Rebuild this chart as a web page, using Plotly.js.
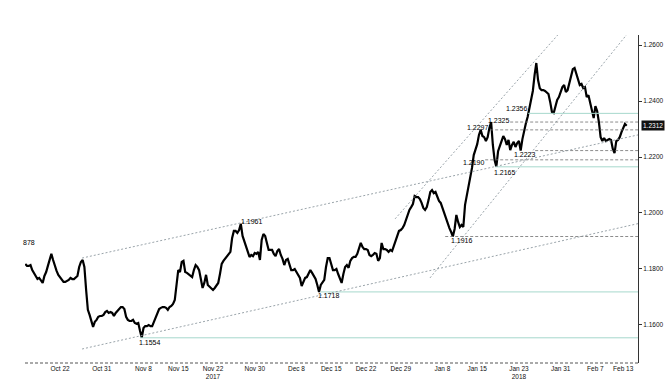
<!DOCTYPE html>
<html><head><meta charset="utf-8">
<script src="https://cdn.plot.ly/plotly-3.0.1.min.js"></script>
<style>html,body{margin:0;padding:0;background:#fff}#chart{width:669px;height:382px}</style>
</head><body><div id="chart"></div>
<script>
// EUR/USD, 6-hour closes, weekdays only
const seriesStart = '2017-10-16T00:00:00Z';
const stepHours = 6;
const price = [
1.1818,1.1811,1.1811,1.1814,1.1796,1.1786,1.1775,1.1764,1.1768,1.1757,
1.1750,1.1775,1.1789,1.1811,1.1829,1.1854,1.1832,1.1807,1.1793,1.1779,
1.1771,1.1764,1.1754,1.1754,1.1757,1.1761,1.1768,1.1764,1.1764,1.1768,
1.1775,1.1807,1.1825,1.1832,1.1807,1.1725,1.1654,1.1636,1.1614,1.1593,
1.1611,1.1618,1.1629,1.1632,1.1632,1.1636,1.1646,1.1650,1.1643,1.1646,
1.1643,1.1632,1.1643,1.1650,1.1654,1.1664,1.1664,1.1657,1.1629,1.1618,
1.1614,1.1614,1.1618,1.1607,1.1604,1.1607,1.1579,1.1554,1.1589,1.1596,
1.1596,1.1600,1.1596,1.1596,1.1611,1.1629,1.1646,1.1657,1.1661,1.1664,
1.1664,1.1661,1.1654,1.1664,1.1668,1.1675,1.1689,1.1750,1.1796,1.1789,
1.1825,1.1829,1.1789,1.1786,1.1782,1.1775,1.1771,1.1796,1.1814,1.1807,
1.1796,1.1764,1.1732,1.1750,1.1779,1.1743,1.1736,1.1732,1.1725,1.1732,
1.1739,1.1750,1.1782,1.1818,1.1829,1.1836,1.1843,1.1850,1.1861,1.1911,
1.1936,1.1936,1.1929,1.1939,1.1961,1.1918,1.1900,1.1886,1.1861,1.1843,
1.1850,1.1846,1.1857,1.1854,1.1861,1.1832,1.1904,1.1925,1.1918,1.1889,
1.1868,1.1868,1.1868,1.1854,1.1846,1.1864,1.1871,1.1850,1.1836,1.1814,
1.1832,1.1836,1.1814,1.1796,1.1796,1.1800,1.1789,1.1779,1.1768,1.1739,
1.1754,1.1768,1.1771,1.1782,1.1796,1.1786,1.1775,1.1764,1.1743,1.1718,
1.1743,1.1754,1.1761,1.1807,1.1839,1.1839,1.1818,1.1796,1.1796,1.1800,
1.1782,1.1764,1.1750,1.1782,1.1807,1.1814,1.1804,1.1829,1.1839,1.1843,
1.1843,1.1854,1.1875,1.1893,1.1879,1.1871,1.1871,1.1868,1.1850,1.1846,
1.1850,1.1857,1.1854,1.1829,1.1839,1.1893,1.1871,1.1871,1.1868,1.1861,
1.1868,1.1864,1.1882,1.1900,1.1914,1.1936,1.1939,1.1946,1.1957,1.1975,
1.1996,1.2011,1.2021,1.2032,1.2061,1.2057,1.2057,1.2050,1.2036,1.2018,
1.2011,1.2021,1.2046,1.2075,1.2082,1.2071,1.2075,1.2061,1.2043,1.2036,
1.2018,1.1996,1.1979,1.1964,1.1946,1.1932,1.1916,1.1943,1.1993,1.1968,
1.1950,1.1957,1.1950,1.2029,1.2064,1.2100,1.2121,1.2161,1.2207,1.2225,
1.2246,1.2279,1.2297,1.2275,1.2271,1.2257,1.2271,1.2304,1.2325,1.2243,
1.2189,1.2165,1.2221,1.2239,1.2257,1.2275,1.2264,1.2243,1.2261,1.2225,
1.2243,1.2254,1.2236,1.2250,1.2257,1.2223,1.2264,1.2300,1.2321,1.2343,
1.2379,1.2411,1.2436,1.2493,1.2536,1.2475,1.2446,1.2439,1.2439,1.2436,
1.2429,1.2425,1.2396,1.2361,1.2357,1.2386,1.2404,1.2414,1.2429,1.2450,
1.2457,1.2432,1.2439,1.2464,1.2493,1.2514,1.2518,1.2500,1.2475,1.2457,
1.2461,1.2446,1.2450,1.2414,1.2421,1.2396,1.2368,1.2339,1.2382,1.2364,
1.2325,1.2271,1.2257,1.2268,1.2257,1.2261,1.2264,1.2261,1.2229,1.2214,
1.2257,1.2261,1.2271,1.2289,1.2307,1.2318,1.2312
];
const lastPriceText = '1.2312';

const tickDates = ['2017-10-23','2017-10-31','2017-11-08','2017-11-15','2017-11-22','2017-11-30','2017-12-08','2017-12-15','2017-12-22','2017-12-29','2018-01-08','2018-01-15','2018-01-23','2018-01-31','2018-02-07','2018-02-13'];
const tickLabels = ['Oct 22','Oct 31','Nov 8','Nov 15','Nov 22<br>2017','Nov 30','Dec 8','Dec 15','Dec 22','Dec 29','Jan 8','Jan 15','Jan 23<br>2018','Jan 31','Feb 7','Feb 13'];
const yTicks = [1.16,1.18,1.20,1.22,1.24,1.26];

// support / resistance levels (solid teal)
const solidLevels = [1.1554,1.1718,1.2165,1.2356];
const solidStart = ['2017-11-07 12:00','2017-12-13 10:00','2018-01-17 14:00','2018-01-24 08:00'];
// dashed levels
const dashLevels = [1.1916,1.2190,1.2223,1.2297,1.2325];
const dashStart = ['2018-01-08 09:30','2018-01-16 03:30','2018-01-25 08:00','2018-01-16 20:40','2018-01-19 17:45'];
const levelEnd = '2018-02-16 00:00';
// trend channels
const trendX0 = ['2017-10-26 04:00','2017-10-26 04:00','2017-12-28 04:30','2018-01-04 05:00'];
const trendY0 = [1.1839,1.1514,1.1979,1.1768];
const trendX1 = ['2018-02-15 03:00','2018-02-15 03:00','2018-01-30 14:00','2018-02-13 11:00'];
const trendY1 = [1.2279,1.1962,1.2636,1.2636];
// level labels
const labelText = ['878','1.1554','1.1961','1.1718','1.1916','1.2190','1.2165','1.2297','1.2325','1.2356','1.2223'];
const labelDate = ['2017-10-16 13:00','2017-11-08 22:00','2017-11-29 15:00','2017-12-14 17:00','2018-01-10 20:00','2018-01-12 13:00','2018-01-19 00:30','2018-01-15 01:30','2018-01-18 04:00','2018-01-22 18:30','2018-01-23 21:30'];
const labelVal = [1.1896,1.1539,1.1968,1.1704,1.1900,1.2179,1.2145,1.2305,1.2332,1.2375,1.2209];

// regular 6h timestamps on weekdays
function pad(n){return (n<10?'0':'')+n;}
const times = [];
let t = Date.parse(seriesStart);
while (times.length < price.length) {
  const d = new Date(t);
  const dow = d.getUTCDay();
  if (dow !== 0 && dow !== 6) {
    times.push(d.getUTCFullYear()+'-'+pad(d.getUTCMonth()+1)+'-'+pad(d.getUTCDate())+' '+pad(d.getUTCHours())+':00');
  }
  t += stepHours*3600*1000;
}

const FONT = 'Liberation Sans, Arial, sans-serif';
const shapes = [];
solidLevels.forEach((v,i)=>shapes.push({type:'line',xref:'x',yref:'y',x0:solidStart[i],x1:levelEnd,y0:v,y1:v,line:{color:'#a6d8cc',width:1}}));
dashLevels.forEach((v,i)=>shapes.push({type:'line',xref:'x',yref:'y',x0:dashStart[i],x1:levelEnd,y0:v,y1:v,line:{color:'#6e6e6e',width:0.8,dash:'3px,2px'}}));
trendX0.forEach((x,i)=>shapes.push({type:'line',xref:'x',yref:'y',x0:x,x1:trendX1[i],y0:trendY0[i],y1:trendY1[i],line:{color:'#8e9aa0',width:0.9,dash:'2px,2px'}}));
shapes.push({type:'line',xref:'paper',yref:'paper',x0:0,x1:1,y0:0,y1:0,line:{color:'#555',width:1,dash:'3px,2px'}});

const annotations = labelText.map((s,i)=>({xref:'x',yref:'y',x:labelDate[i],y:labelVal[i],text:s,showarrow:false,
  font:{family:FONT,size:7,color:'#000'},xanchor:'center',yanchor:'middle'}));
annotations.push({xref:'paper',yref:'y',x:1,y:price[price.length-1],xanchor:'left',xshift:3,text:lastPriceText,showarrow:false,
  bgcolor:'#111',borderpad:1,font:{family:FONT,size:6.5,color:'#fff'}});

const trace = {x:times,y:price,type:'scatter',mode:'lines',line:{color:'#000',width:2.2},hoverinfo:'skip'};

const layout = {
  width:669,height:382,
  margin:{l:25,r:31,t:35,b:19},
  paper_bgcolor:'#fff',plot_bgcolor:'#fff',
  showlegend:false,
  xaxis:{type:'date',range:['2017-10-13 23:00','2018-02-15 03:00'],
    rangebreaks:[{bounds:['sat','mon']}],
    tickmode:'array',tickvals:tickDates,ticktext:tickLabels,
    ticks:'',showgrid:false,zeroline:false,showline:false,
    tickfont:{family:FONT,size:6.5,color:'#111'}},
  yaxis:{side:'right',range:[1.1464,1.2636],tickmode:'array',tickvals:yTicks,tickformat:'.4f',
    ticks:'outside',ticklen:3,tickcolor:'#333',showline:true,linecolor:'#333',linewidth:1,
    showgrid:false,zeroline:false,
    tickfont:{family:FONT,size:6.5,color:'#111'}},
  shapes:shapes,annotations:annotations
};
Plotly.newPlot('chart',[trace],layout,{staticPlot:true,displayModeBar:false});
</script>
</body></html>
